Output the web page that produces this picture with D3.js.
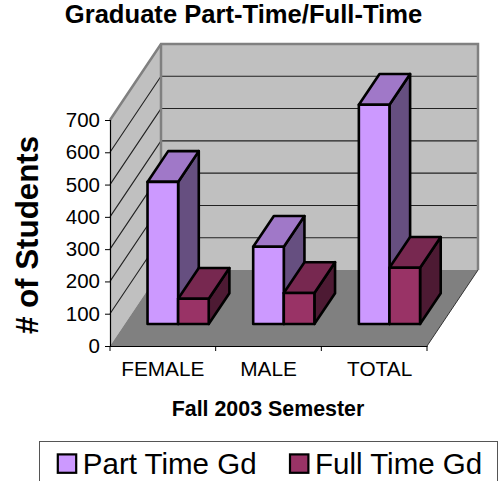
<!DOCTYPE html>
<html><head><meta charset="utf-8">
<script src="https://cdn.jsdelivr.net/npm/d3@7/dist/d3.min.js"></script>
<style>html,body{margin:0;padding:0;background:#fff;overflow:hidden}svg{display:block}text{font-family:"Liberation Sans",Arial,sans-serif;fill:#000}</style>
</head><body><svg id="c" width="501" height="481"></svg>
<script>
const categories = ["FEMALE","MALE","TOTAL"];
const seriesNames = ["Part Time Gd","Full Time Gd"];
const partTime = [440,239,679];
const fullTime = [78,96,174];
const yTicks = [0,100,200,300,400,500,600,700];
const fronts = ["#CC99FF","#993366"];
const tops = ["#A078C8","#772850"];
const sides = ["#664F80","#4D1A33"];

const svg = d3.select("#c");
const x = d3.scaleBand().domain(categories).range([110,427]);
const y = d3.scaleLinear().domain([0,700]).range([346,120]);
const DX = 51, DY = -76;
const P = (px,v,d) => [px + d*DX, y(v) + d*DY];
const path = pts => "M" + pts.map(p=>p.join(",")).join("L") + "Z";
const [x0,x1] = x.range();

// walls & floor
svg.append("path").attr("d",path([P(x0,0,0),P(x0,700,0),P(x0,700,1),P(x0,0,1)])).attr("fill","#C0C0C0");
svg.append("path").attr("d",path([P(x0,0,1),P(x0,700,1),P(x1,700,1),P(x1,0,1)])).attr("fill","#C0C0C0");
svg.append("path").attr("d",path([P(x0,0,0),P(x0,0,1),P(x1,0,1),P(x1,0,0)])).attr("fill","#808080");

// gridlines
const gl = d3.line();
yTicks.filter(t=>t>0&&t<700).forEach(t=>{
  svg.append("path").attr("d",gl([P(x0,t,0),P(x0,t,1),P(x1,t,1)])).attr("fill","none").attr("stroke","#222").attr("stroke-width",1.1);
});
// wall borders
svg.append("path").attr("d",gl([P(x0,700,0),P(x0,700,1),P(x1,700,1),P(x1,0,1)])).attr("fill","none").attr("stroke","#808080").attr("stroke-width",2.5);
svg.append("path").attr("d",gl([P(x0,700,1),P(x0,0,1)])).attr("fill","none").attr("stroke","#808080").attr("stroke-width",2.5);
svg.append("path").attr("d",gl([P(x1,0,0),P(x1,0,1)])).attr("stroke","#333").attr("stroke-width",1).attr("fill","none");

// bars
const band = x.bandwidth(), bw = 30.6, gap = (band-2*bw)/2 + 0.5;
const d0 = 0.29, d1 = 0.695;
const values = [partTime,fullTime];
const g = svg.append("g").attr("stroke","#000").attr("stroke-width",2.6).attr("stroke-linejoin","round");
categories.forEach((c,i)=>{
  values.forEach((vals,s)=>{
    const l = x(c)+gap+s*bw, r = l+bw, v = vals[i];
    g.append("path").attr("fill",sides[s]).attr("d",path([P(r,0,d0),P(r,v,d0),P(r,v,d1),P(r,0,d1)]));
    g.append("path").attr("fill",tops[s]).attr("d",path([P(l,v,d0),P(l,v,d1),P(r,v,d1),P(r,v,d0)]));
    g.append("path").attr("fill",fronts[s]).attr("d",path([P(l,0,d0),P(l,v,d0),P(r,v,d0),P(r,0,d0)]));
  });
});

// axes
const yAxis = d3.axisLeft(y).tickValues(yTicks).tickSize(5).tickPadding(5);
const ay = svg.append("g").attr("transform",`translate(${x0},0)`).call(yAxis);
ay.selectAll("text").style("font-size","20.5px");
const xAxis = d3.axisBottom(x).tickSize(0).tickPadding(15);
const ax = svg.append("g").attr("transform",`translate(0,${y(0)})`).call(xAxis);
ax.selectAll("text").style("font-size","20.8px").attr("dx",d=>d==="TOTAL"?5.5:0);
ax.selectAll(".cat").data(x.domain().concat(["end"])).enter().append("line")
  .attr("stroke","#000").attr("y2",5)
  .attr("x1",d=>d==="end"?x1:x(d)).attr("x2",d=>d==="end"?x1:x(d));
svg.selectAll(".domain").attr("stroke","#000").attr("stroke-width",1.2);
svg.selectAll(".tick line").attr("stroke","#000");

// titles
svg.append("text").attr("x",243.5).attr("y",23.3).attr("text-anchor","middle").attr("font-weight","bold").attr("font-size",25.6).text("Graduate Part-Time/Full-Time");
svg.append("text").attr("x",268).attr("y",416).attr("text-anchor","middle").attr("font-weight","bold").attr("font-size",21.4).text("Fall 2003 Semester");
svg.append("text").attr("transform","translate(38,235) rotate(-90)").attr("text-anchor","middle").attr("font-weight","bold").attr("font-size",31.3).text("# of Students");

// legend
svg.append("rect").attr("x",39.5).attr("y",441.5).attr("width",458).attr("height",60).attr("fill","#fff").attr("stroke","#555").attr("stroke-width",1);
const lx = d3.scaleOrdinal().domain(seriesNames).range([57.8,290]);
seriesNames.forEach((n,s)=>{
  svg.append("rect").attr("x",lx(n)).attr("y",454.4).attr("width",18.4).attr("height",18.4).attr("fill",fronts[s]).attr("stroke","#000").attr("stroke-width",2.2);
  svg.append("text").attr("x",lx(n)+25).attr("y",473.5).attr("font-size",29.5).text(n);
});
</script></body></html>
